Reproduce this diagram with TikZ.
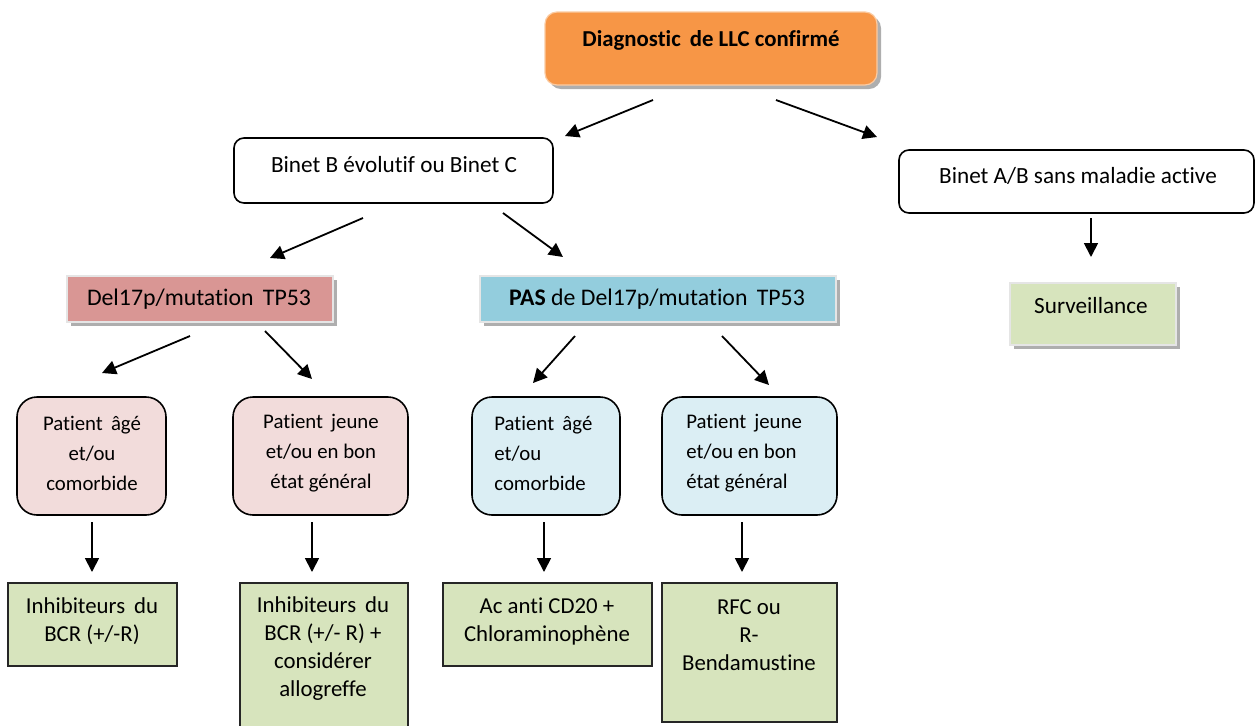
\documentclass[tikz,border=0pt]{standalone}
\usepackage{fontspec}
\setmainfont{Carlito}[Ligatures=NoCommon,RawFeature={-calt;-clig;-liga}]
\usetikzlibrary{arrows.meta,shadows}
\definecolor{orng}{HTML}{F79646}
\definecolor{redb}{HTML}{D99694}
\definecolor{blueb}{HTML}{93CDDD}
\definecolor{greenb}{HTML}{D7E4BD}
\definecolor{pinkl}{HTML}{F2DCDB}
\definecolor{bluel}{HTML}{DBEEF4}
\begin{document}
\begin{tikzpicture}[x=0.5pt,y=-0.5pt,
  shd/.style={drop shadow={shadow xshift=2pt,shadow yshift=-2pt,fill=black!45,opacity=0.7}},
  basebox/.style={anchor=north west,inner sep=0pt,outer sep=0pt},
  topbox/.style={basebox,fill=orng,draw=orng!50!white,line width=0.6pt,rounded corners=6pt,shd},
  whitebox/.style={basebox,fill=white,draw=black,line width=0.8pt,rounded corners=5pt},
  flatbox/.style={basebox,draw=white!80!gray,line width=0.6pt,shd},
  pbox/.style={basebox,draw=black,line width=0.8pt,rounded corners=10pt},
  gbox/.style={basebox,fill=greenb,draw=black!85,line width=0.8pt},
  txt/.style={inner sep=0pt,font=\fontsize{11.6}{14}\selectfont},
  ptxt/.style={inner sep=0pt,align=center,font=\fontsize{10.4}{15}\selectfont},
  gtxt/.style={inner sep=0pt,align=center,font=\fontsize{11.4}{14}\selectfont},
  arr/.style={-{Triangle[length=7pt,width=7pt]},line width=0.9pt}]
\useasboundingbox (0,0) rectangle (1255,725);
% boxes
\node[topbox,minimum width=166pt,minimum height=36.5pt] (top) at (545,12) {};
\node[whitebox,minimum width=159.5pt,minimum height=32.5pt] (binetbc) at (234,138) {};
\node[whitebox,minimum width=177.5pt,minimum height=31.5pt] (binetab) at (899,150) {};
\node[flatbox,fill=redb,minimum width=133pt,minimum height=23pt] (del) at (67,276) {};
\node[flatbox,fill=blueb,minimum width=178pt,minimum height=23pt] (pas) at (480,276) {};
\node[flatbox,fill=greenb,minimum width=83pt,minimum height=31pt] (surv) at (1010,283) {};
\node[pbox,fill=pinkl,minimum width=74.5pt,minimum height=59pt] (p1) at (17,397) {};
\node[pbox,fill=pinkl,minimum width=87.5pt,minimum height=59pt] (p2) at (233,397) {};
\node[pbox,fill=bluel,minimum width=74pt,minimum height=59pt] (p3) at (472,397) {};
\node[pbox,fill=bluel,minimum width=87.5pt,minimum height=59pt] (p4) at (662,397) {};
\node[gbox,minimum width=84.5pt,minimum height=41.5pt] (g1) at (8,583) {};
\node[gbox,minimum width=84pt,minimum height=76pt] (g2) at (240,583) {};
\node[gbox,minimum width=104.5pt,minimum height=41.5pt] (g3) at (443,583) {};
\node[gbox,minimum width=87.5pt,minimum height=69.5pt] (g4) at (662,583) {};
% texts
\node[txt,font=\fontsize{11.4}{14}\selectfont\bfseries] (ttop) at (711,40) {Diagnostic\, de LLC confirmé};
\node[txt] (tbc) at (394,165) {Binet B évolutif ou Binet C};
\node[txt] (tab) at (1078,176) {Binet A/B sans maladie active};
\node[txt,font=\fontsize{11.9}{14}\selectfont] (tdel) at (199,299) {Del17p/mutation\, TP53};
\node[txt,font=\fontsize{11.9}{14}\selectfont] (tpas) at (657,299) {\textbf{PAS} de Del17p/mutation\, TP53};
\node[txt] (tsurv) at (1091,306) {Surveillance};
\node[ptxt] (tp1) at (92,453) {Patient\, âgé\\et/ou\\comorbide};
\node[ptxt] (tp2) at (321,453) {Patient\, jeune\\et/ou en bon\\état général};
\node[ptxt,align=left,anchor=west] (tp3) at (494,453) {Patient\, âgé\\et/ou\\comorbide};
\node[ptxt,align=left,anchor=west] (tp4) at (686,453) {Patient\, jeune\\et/ou en bon\\état général};
\node[gtxt] (tg1) at (92,621) {Inhibiteurs\, du\\BCR (+/-R)};
\node[gtxt] (tg2) at (323,649) {Inhibiteurs\, du\\BCR (+/- R) +\\considérer\\allogreffe};
\node[gtxt] (tg3) at (547,621) {Ac anti CD20 +\\Chloraminophène};
\node[gtxt] (tg4) at (749,635) {RFC ou\\R-\\Bendamustine};
% arrow ends
\coordinate (a1s) at (653,100); \coordinate (a1e) at (565,136);
\coordinate (a2s) at (776,100); \coordinate (a2e) at (877,137);
\coordinate (a3s) at (363,218); \coordinate (a3e) at (270,258);
\coordinate (a4s) at (503,213); \coordinate (a4e) at (563,257);
\coordinate (a5s) at (1091,218); \coordinate (a5e) at (1091,257);
\coordinate (a6s) at (190,336); \coordinate (a6e) at (102,373);
\coordinate (a7s) at (265,331); \coordinate (a7e) at (312,379);
\coordinate (a8s) at (575,336); \coordinate (a8e) at (533,383);
\coordinate (a9s) at (722,336); \coordinate (a9e) at (769,385);
\coordinate (b1s) at (92,522); \coordinate (b1e) at (92,572);
\coordinate (b2s) at (312,522); \coordinate (b2e) at (312,572);
\coordinate (b3s) at (544,522); \coordinate (b3e) at (544,572);
\coordinate (b4s) at (742,522); \coordinate (b4e) at (742,572);
\foreach \a in {a1,a2,a3,a4,a5,a6,a7,a8,a9,b1,b2,b3,b4}
  \draw[arr] (\a s) -- (\a e);
\end{tikzpicture}
\end{document}
